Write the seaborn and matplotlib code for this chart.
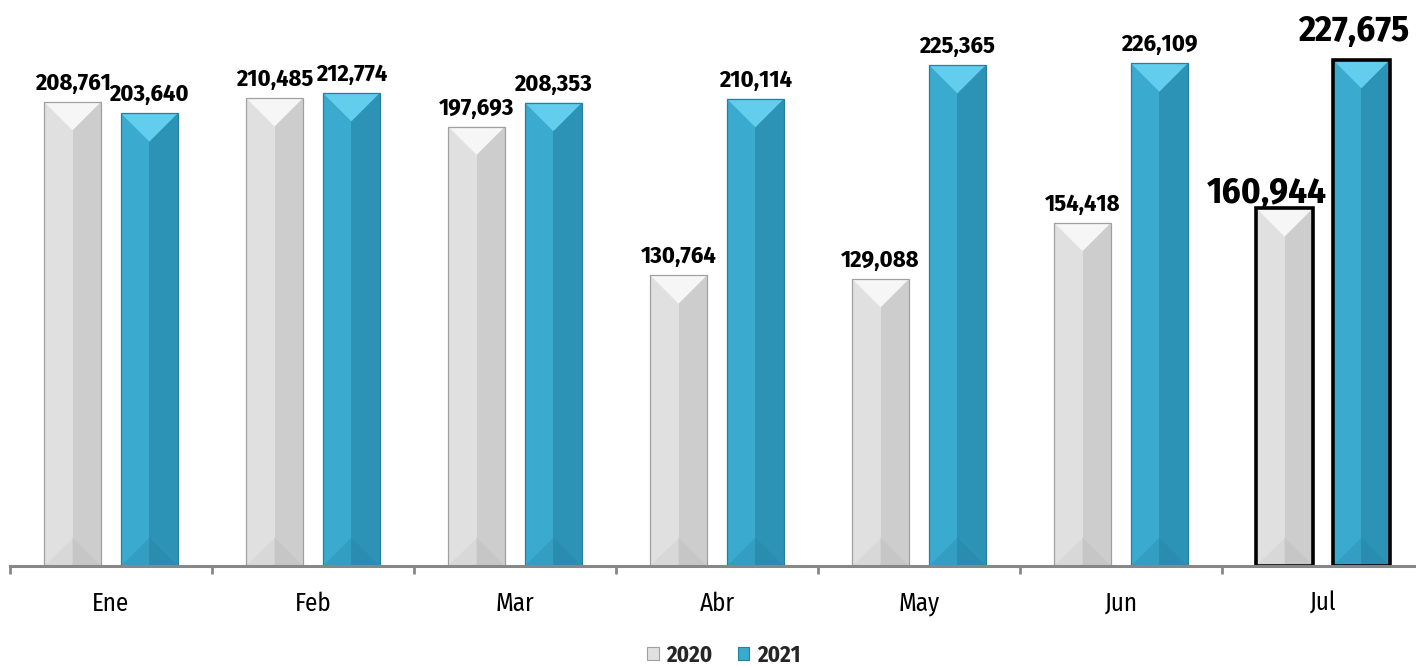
import matplotlib
matplotlib.use("Agg")
import matplotlib.pyplot as plt
from matplotlib.patches import Polygon, Patch
from matplotlib import font_manager
import seaborn as sns
import pandas as pd

# ---- data ----
meses = ["Ene", "Feb", "Mar", "Abr", "May", "Jun", "Jul"]
anios = ["2020", "2021"]
valores_2020 = [208761, 210485, 197693, 130764, 129088, 154418, 160944]
valores_2021 = [203640, 212774, 208353, 210114, 225365, 226109, 227675]

df = pd.DataFrame({
    "mes": meses * 2,
    "anio": ["2020"] * len(meses) + ["2021"] * len(meses),
    "valor": valores_2020 + valores_2021,
})

sns.set_theme(style="white")
names = {f.name for f in font_manager.fontManager.ttflist}
narrow = "Liberation Sans"
for cand in ["Liberation Sans Narrow", "Arial Narrow", "Fira Sans Condensed",
             "Barlow Semi Condensed", "DejaVu Sans"]:
    if cand in names:
        narrow = cand
        break
plt.rcParams["font.family"] = [narrow, "DejaVu Sans"]

W, H = 1416, 666
fig = plt.figure(figsize=(W / 100, H / 100), dpi=100)
ax_left, ax_w = 10, 1414
ax_bottom, ax_h = 100, 566
ax = fig.add_axes([ax_left / W, ax_bottom / H, ax_w / W, ax_h / H])

pal = {"2020": "#DDDDDD", "2021": "#38A8CC"}
sns.barplot(data=df, x="mes", y="valor", hue="anio", order=meses,
            hue_order=anios, palette=pal, width=0.76, gap=0.26,
            legend=False, ax=ax, saturation=1, linewidth=0)

ymax = 254600
ax.set_ylim(0, ymax)
ax.set_xlim(-0.5, 6.5)

px_x = ax_w / 7.0
px_y = ax_h / ymax

styles = {
    "2020": dict(left="#E0E0E0", right="#CDCDCD", top="#F6F6F6",
                 bl="#D8D8D8", br="#C6C6C6", edge="#A0A0A0"),
    "2021": dict(left="#3AAACE", right="#2C93B6", top="#62CDEC",
                 bl="#339EC2", br="#2A8CAE", edge="#23809F"),
}

# label offsets (pixels): last month labels are larger and set differently
off_small = 12
off_last = {"2020": (-18, 5), "2021": (-8, 19)}

for anio, cont in zip(anios, ax.containers):
    st = styles[anio]
    for i, bar in enumerate(cont.patches):
        x0 = bar.get_x()
        w = bar.get_width()
        x1 = x0 + w
        xc = x0 + w / 2
        top = bar.get_height()
        d = (w * px_x / 2) / px_y
        d = min(d, top / 2)
        polys = [
            ([(x0, 0), (xc, 0), (xc, top), (x0, top)], st["left"]),
            ([(xc, 0), (x1, 0), (x1, top), (xc, top)], st["right"]),
            ([(x0, 0), (xc, 0), (xc, d)], st["bl"]),
            ([(xc, 0), (x1, 0), (xc, d)], st["br"]),
            ([(x0, top), (x1, top), (xc, top - d)], st["top"]),
        ]
        for pts, c in polys:
            ax.add_patch(Polygon(pts, closed=True, facecolor=c,
                                 edgecolor="none", zorder=3))
        last = (i == len(meses) - 1)
        ax.add_patch(Polygon([(x0, 0), (x1, 0), (x1, top), (x0, top)],
                             closed=True, facecolor="none",
                             edgecolor="black" if last else st["edge"],
                             linewidth=2.6 if last else 0.9, zorder=4))
        if last:
            dx, dy = off_last[anio]
            fs = 26.5
        else:
            dx, dy = 0, off_small
            fs = 17.5
        ax.annotate(f"{int(top):,}", (xc, top), xytext=(dx * 0.72, dy * 0.72),
                    textcoords="offset points", ha="center", va="baseline",
                    fontsize=fs, fontweight="bold",
                    color="black", zorder=5, annotation_clip=False)

# axes styling
for s in ["left", "top", "right"]:
    ax.spines[s].set_visible(False)
ax.spines["bottom"].set_color("#878787")
ax.spines["bottom"].set_linewidth(2.2)
ax.spines["bottom"].set_zorder(6)
ax.set_yticks([])
ax.set_xlabel("")
ax.set_ylabel("")
ax.set_xticks([i + 0.5 for i in range(-1, 7)], minor=False)
ax.set_xticklabels([])
ax.tick_params(axis="x", which="major", direction="out", length=6,
               width=2, color="#878787", bottom=True)
ax.set_xticks(range(len(meses)), minor=True)
ax.set_xticklabels(meses, minor=True)
ax.tick_params(axis="x", which="minor", length=0, pad=18, labelsize=18,
               labelcolor="black")

handles = [Patch(facecolor=styles[a]["left"], edgecolor=styles[a]["edge"],
                 linewidth=0.8, label=a) for a in anios]
leg = fig.legend(handles=handles, loc="center", bbox_to_anchor=(724 / W, 1 - 655 / H),
                 ncol=2, frameon=False, handlelength=0.5, handleheight=0.5,
                 handletextpad=0.35, columnspacing=1.1,
                 prop={"weight": "bold", "size": 16.5})

fig.savefig("out.png", dpi=100)
